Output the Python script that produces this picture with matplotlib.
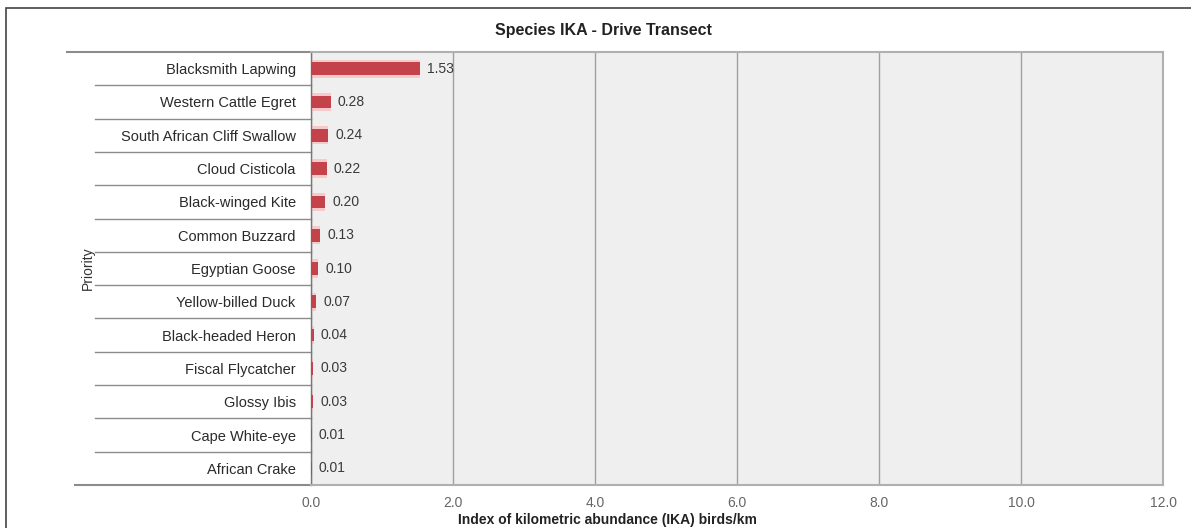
import matplotlib.pyplot as plt
from matplotlib.patches import Rectangle
from matplotlib.transforms import blended_transform_factory

# --- data ---
species = [
    "Blacksmith Lapwing", "Western Cattle Egret", "South African Cliff Swallow",
    "Cloud Cisticola", "Black-winged Kite", "Common Buzzard", "Egyptian Goose",
    "Yellow-billed Duck", "Black-headed Heron", "Fiscal Flycatcher",
    "Glossy Ibis", "Cape White-eye", "African Crake",
]
ika = [1.53, 0.28, 0.24, 0.22, 0.20, 0.13, 0.10, 0.07, 0.04, 0.03, 0.03, 0.01, 0.01]
x_ticks = [0, 2, 4, 6, 8, 10, 12]

plt.rcParams["font.family"] = ["Liberation Sans", "DejaVu Sans"]

fig = plt.figure(figsize=(11.91, 5.28), dpi=100)
ax = fig.add_axes([0.2611, 0.0814, 0.7154, 0.8201])

# outer frame (only top and left visible in the picture)
fig.patches.append(Rectangle((0.005, -0.1), 1.2, 1.085, transform=fig.transFigure,
                             fill=False, edgecolor="#444444", linewidth=1.2))

n = len(species)
ypos = list(range(n))

ax.set_facecolor("#efefef")
ax.barh(ypos, ika, height=0.55, color="#f6c9cb", zorder=2)  # soft halo
ax.barh(ypos, ika, height=0.38, color="#c4434b", zorder=3)

for y, v in zip(ypos, ika):
    ax.text(v + 0.1, y, f"{v:.2f}", va="center", ha="left", fontsize=10,
            color="#3a3a3a", zorder=4)

ax.set_xlim(0, 12)
ax.set_ylim(n - 0.5, -0.5)
ax.set_xticks(x_ticks)
ax.set_xticklabels([f"{t:.1f}" for t in x_ticks], color="#666666", fontsize=10)
ax.set_yticks(ypos)
ax.set_yticklabels(species, fontsize=10.5, color="#2a2a2a")
ax.tick_params(axis="y", length=0, pad=11)
ax.tick_params(axis="x", length=0, pad=8)

ax.grid(axis="x", color="#a0a0a0", linewidth=1.0, zorder=1)
ax.set_axisbelow(True)
for side in ["top", "bottom", "right"]:
    ax.spines[side].set_color("#b0b0b0")
    ax.spines[side].set_linewidth(1.5)
ax.spines["left"].set_color("#777777")
ax.spines["left"].set_linewidth(1.0)

# row separators in the label area
tr = blended_transform_factory(ax.transAxes, ax.transData)
for b in range(1, n):
    ax.plot([-0.2535, 0], [b - 0.5, b - 0.5], transform=tr, color="#8c8c8c",
            linewidth=1.0, clip_on=False)
ax.plot([-0.286, 0], [-0.5, -0.5], transform=tr, color="#8c8c8c",
        linewidth=1.5, clip_on=False)
ax.plot([-0.277, 0], [n - 0.5, n - 0.5], transform=tr, color="#8c8c8c",
        linewidth=1.5, clip_on=False)

fig.text(0.074, 0.492, "Priority", rotation=90, ha="center", va="center",
         fontsize=10, color="#333333")
fig.text(0.507, 0.943, "Species IKA - Drive Transect", ha="center", va="center",
         fontsize=11.5, fontweight="bold", color="#222222")
fig.text(0.51, 0.016, "Index of kilometric abundance (IKA) birds/km", ha="center",
         va="center", fontsize=10, fontweight="bold", color="#222222")

fig.savefig("out.png", dpi=100)
